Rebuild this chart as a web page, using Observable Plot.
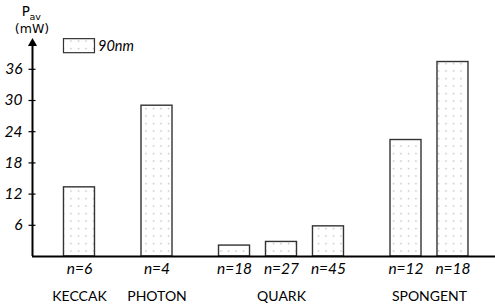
<!DOCTYPE html>
<html>
<head>
<meta charset="utf-8">
<script src="https://cdn.jsdelivr.net/npm/d3@7"></script>
<script src="https://cdn.jsdelivr.net/npm/@observablehq/plot@0.6"></script>
<style>
  html, body { margin: 0; padding: 0; background: #fff; }
  #chart { width: 495px; height: 308px; }
</style>
</head>
<body>
<div id="chart"></div>
<script>
// ---- data ----
const groups = ["KECCAK", "PHOTON", "QUARK", "QUARK", "QUARK", "SPONGENT", "SPONGENT"];
const nLabels = ["n=6", "n=4", "n=18", "n=27", "n=45", "n=12", "n=18"];
const power = [13.3, 29.0, 2.1, 2.8, 5.8, 22.4, 37.4];   // P_av (mW), 90nm
const yTicks = [6, 12, 18, 24, 30, 36];
const legendLabel = "90nm";

// ---- layout derived from data (bar slots, with a wider gap between groups) ----
const groupNames = [...new Set(groups)];
const groupGap = 0.65;
const halfW = 0.33;
const bars = power.map((v, i) => ({
  group: groups[i], n: nLabels[i], value: v,
  pos: i + groupNames.indexOf(groups[i]) * groupGap
}));
const groupCenters = groupNames.map(g => {
  const b = bars.filter(d => d.group === g);
  return { group: g, pos: d3.mean(b, d => d.pos) };
});

const yMax = 42;
const xMin = -1;
const font = "Lato, 'Open Sans', sans-serif";

const chart = Plot.plot({
  width: 495,
  height: 308,
  marginLeft: 32,
  marginRight: 0,
  marginTop: 37.6,
  marginBottom: 52,
  style: { fontFamily: font, fontSize: "14px", color: "#000", background: "#fff" },
  x: { domain: [xMin, 8.855], axis: null },
  y: { domain: [0, yMax], axis: null },
  marks: [
    // bars
    Plot.rect(bars, {
      x1: d => d.pos - halfW, x2: d => d.pos + halfW, y1: 0, y2: "value",
      fill: "url(#dots)", stroke: "#333", strokeWidth: 1.4
    }),
    // legend swatch aligned with first bar
    Plot.rect([legendLabel], {
      x1: bars[0].pos - halfW, x2: bars[0].pos + halfW, y1: 39.1, y2: 41.8,
      fill: "url(#dots)", stroke: "#333", strokeWidth: 1.2
    }),
    Plot.text([legendLabel], {
      x: bars[0].pos + halfW, y: 40.4, text: d => d, dx: 3,
      textAnchor: "start", fontStyle: "italic", fontSize: 14.5
    }),
    // y ticks (crossing axis)
    Plot.axisY({ ticks: yTicks, tickSize: 7, dx: 3.5, text: null, label: null, stroke: "#000", strokeWidth: 1.2 }),
    Plot.axisY({ ticks: yTicks, tickSize: 0, tickPadding: 10, label: null, fontStyle: "italic", fontSize: 15.5 }),
    // axes lines
    Plot.ruleY([0], { stroke: "#000", strokeWidth: 2 }),
    Plot.ruleX([xMin], { y1: 0, y2: yMax - 1.2, stroke: "#000", strokeWidth: 2 }),
    Plot.dot([yMax], { x: xMin, y: d => d, symbol: "triangle", r: 3.4, dy: 5.2, fill: "#000", stroke: null }),
    // axis title P_av (mW)
    Plot.text(["P"], { x: xMin, y: yMax, text: d => d, dx: -2.5, dy: -26, textAnchor: "end", fontSize: 13.5, fontFamily: "'DejaVu Sans', sans-serif" }),
    Plot.text(["av"], { x: xMin, y: yMax, text: d => d, dx: -3, dy: -21.5, textAnchor: "start", fontSize: 9.5, fontFamily: "'DejaVu Sans', sans-serif" }),
    Plot.text(["(mW)"], { x: xMin, y: yMax, text: d => d, dx: -0.5, dy: -9.6, textAnchor: "middle", fontSize: 12.5, fontFamily: "'DejaVu Sans', sans-serif" }),
    // n labels
    Plot.text(bars, { x: "pos", y: 0, text: "n", dy: 13, fontStyle: "italic", fontSize: 15.5 }),
    // group labels
    Plot.text(groupCenters, { x: "pos", y: 0, text: "group", dy: 40, fontSize: 14 })
  ]
});

// dotted fill pattern
const svg = d3.select(chart);
const pat = svg.insert("defs", ":first-child")
  .append("pattern")
  .attr("id", "dots").attr("patternUnits", "userSpaceOnUse")
  .attr("width", 7.5).attr("height", 7.5);
pat.append("rect").attr("width", 7.5).attr("height", 7.5).attr("fill", "#fff");
pat.append("circle").attr("cx", 3.5).attr("cy", 3.5).attr("r", 0.8).attr("fill", "#b8b8b8");

document.getElementById("chart").appendChild(chart);
</script>
</body>
</html>
